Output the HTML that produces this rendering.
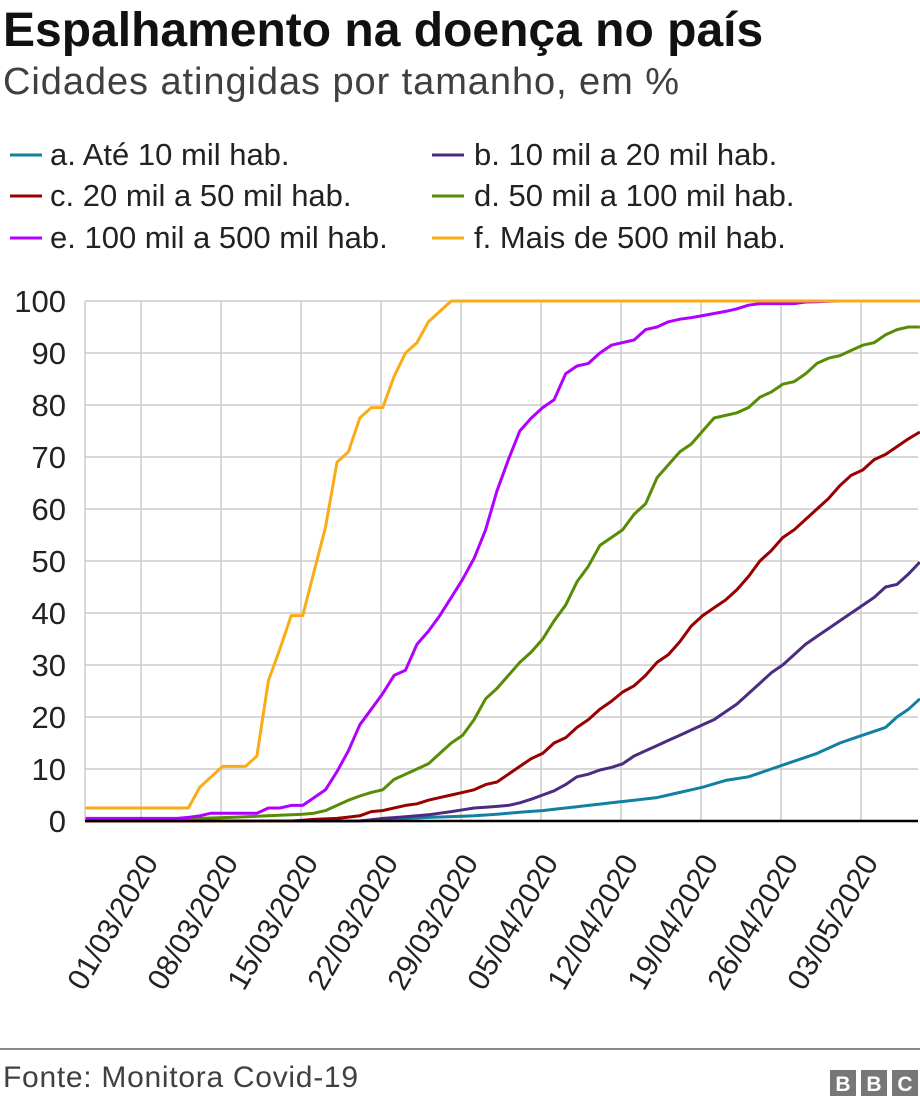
<!DOCTYPE html>
<html><head><meta charset="utf-8"><style>
body{margin:0;background:#fff;font-family:"Liberation Sans",Arial,sans-serif;}
svg text{font-family:"Liberation Sans",Arial,sans-serif;}
</style></head><body>
<svg id="s" width="920" height="1104" xmlns="http://www.w3.org/2000/svg">
<text x="3" y="46" font-size="48" font-weight="bold" fill="#111">Espalhamento na doença no país</text>
<text x="3" y="94" font-size="38" fill="#404040" textLength="676">Cidades atingidas por tamanho, em %</text>
<g font-size="31" fill="#222">
<line x1="10" y1="155" x2="42" y2="155" stroke="#1380a1" stroke-width="3"/><text x="50" y="165">a. Até 10 mil hab.</text>
<line x1="432" y1="155" x2="464" y2="155" stroke="#4b2c80" stroke-width="3"/><text x="474" y="165">b. 10 mil a 20 mil hab.</text>
<line x1="10" y1="196" x2="42" y2="196" stroke="#990000" stroke-width="3"/><text x="50" y="206">c. 20 mil a 50 mil hab.</text>
<line x1="432" y1="196" x2="464" y2="196" stroke="#588c07" stroke-width="3"/><text x="474" y="206">d. 50 mil a 100 mil hab.</text>
<line x1="10" y1="238" x2="42" y2="238" stroke="#b000ff" stroke-width="3"/><text x="50" y="248">e. 100 mil a 500 mil hab.</text>
<line x1="432" y1="238" x2="464" y2="238" stroke="#faab18" stroke-width="3"/><text x="474" y="248">f. Mais de 500 mil hab.</text>
</g>
<g id="grid"></g>
<g id="ser"></g>
<line x1="0" y1="1049" x2="920" y2="1049" stroke="#888" stroke-width="2"/>
<text x="3" y="1087" font-size="30" fill="#404040" textLength="355">Fonte: Monitora Covid-19</text>
<g fill="#777"><rect x="830" y="1070" width="26" height="26"/><rect x="861" y="1070" width="26" height="26"/><rect x="892" y="1070" width="26" height="26"/></g>
<g fill="#fff" font-size="21" font-weight="bold" text-anchor="middle"><text x="843" y="1091">B</text><text x="874" y="1091">B</text><text x="905" y="1091">C</text></g>
</svg>
<script>
var NS="http://www.w3.org/2000/svg",g=document.getElementById("grid"),se=document.getElementById("ser");
function el(p,t,a,txt){var e=document.createElementNS(NS,t);for(var k in a)e.setAttribute(k,a[k]);if(txt)e.textContent=txt;p.appendChild(e);return e;}
var X0=85.5,DX=11.43,Y0=821,DY=5.2;
for(var v=0;v<=100;v+=10){var y=Y0-v*DY;if(v>0)el(g,"line",{x1:85,x2:918,y1:y,y2:y,stroke:"#ccc","stroke-width":1.5});el(g,"text",{x:66,y:y+11,"font-size":31,"text-anchor":"end",fill:"#222"},""+v);}
el(g,"line",{x1:85,x2:85,y1:301,y2:821,stroke:"#ccc","stroke-width":1.5});
var labs=["01/03/2020","08/03/2020","15/03/2020","22/03/2020","29/03/2020","05/04/2020","12/04/2020","19/04/2020","26/04/2020","03/05/2020"];
for(var i=0;i<10;i++){var x=141+i*80;el(g,"line",{x1:x,x2:x,y1:301,y2:821,stroke:"#ccc","stroke-width":1.5});
el(g,"text",{x:0,y:0,"font-size":30,"text-anchor":"end",fill:"#222",transform:"translate("+(x+18)+",862) rotate(-60)"},labs[i]);}
function mk(kp,col){var pts=[];for(var d=0;d<=73;d++){var j=0;while(j<kp.length-1&&kp[j+1][0]<=d)j++;var v;if(j>=kp.length-1)v=kp[kp.length-1][1];else{var a=kp[j],b=kp[j+1];v=a[1]+(b[1]-a[1])*(d-a[0])/(b[0]-a[0]);}pts.push((X0+d*DX).toFixed(1)+","+(Y0-v*DY).toFixed(1));}
el(se,"polyline",{points:pts.join(" "),fill:"none",stroke:col,"stroke-width":3,"stroke-linejoin":"round"});}
mk([[0,0],[24,0],[30,.7],[34,1],[36,1.3],[38,1.7],[40,2],[42,2.5],[44,3],[46,3.5],[48,4],[50,4.5],[52,5.5],[54,6.5],[56,7.8],[58,8.5],[60,10],[62,11.5],[64,13],[66,15],[68,16.5],[70,18],[71,20],[72,21.5],[73,23.5]],"#1380a1");
mk([[0,0],[24,0],[26,.5],[28,.8],[30,1.2],[32,1.8],[34,2.5],[36,2.8],[37,3],[38,3.5],[39,4.2],[40,5],[41,5.8],[42,7],[43,8.5],[44,9],[45,9.8],[46,10.3],[47,11],[48,12.5],[49,13.5],[50,14.5],[51,15.5],[52,16.5],[53,17.5],[54,18.5],[55,19.5],[56,21],[57,22.5],[58,24.5],[59,26.5],[60,28.5],[61,30],[62,32],[63,34],[64,35.5],[65,37],[66,38.5],[67,40],[68,41.5],[69,43],[70,45],[71,45.5],[72,47.5],[73,49.8]],"#4b2c80");
mk([[0,0],[18,0],[20,.3],[22,.5],[24,1],[25,1.8],[26,2],[27,2.5],[28,3],[29,3.3],[30,4],[31,4.5],[32,5],[33,5.5],[34,6],[35,7],[36,7.5],[37,9],[38,10.5],[39,12],[40,13],[41,15],[42,16],[43,18],[44,19.5],[45,21.5],[46,23],[47,24.8],[48,26],[49,28],[50,30.5],[51,32],[52,34.5],[53,37.5],[54,39.5],[55,41],[56,42.5],[57,44.5],[58,47],[59,50],[60,52],[61,54.5],[62,56],[63,58],[64,60],[65,62],[66,64.5],[67,66.5],[68,67.5],[69,69.5],[70,70.5],[71,72],[72,73.5],[73,74.8]],"#990000");
mk([[0,.3],[8,.3],[10,.5],[14,.8],[16,1],[19,1.3],[20,1.5],[21,2],[22,3],[23,4],[24,4.8],[25,5.5],[26,6],[27,8],[28,9],[29,10],[30,11],[31,13],[32,15],[33,16.5],[34,19.5],[35,23.5],[36,25.5],[37,28],[38,30.5],[39,32.5],[40,35],[41,38.5],[42,41.5],[43,46],[44,49],[45,53],[46,54.5],[47,56],[48,59],[49,61],[50,66],[51,68.5],[52,71],[53,72.5],[54,75],[55,77.5],[56,78],[57,78.5],[58,79.5],[59,81.5],[60,82.5],[61,84],[62,84.5],[63,86],[64,88],[65,89],[66,89.5],[67,90.5],[68,91.5],[69,92],[70,93.5],[71,94.5],[72,95],[73,95]],"#588c07");
mk([[0,.5],[8,.5],[9,.7],[10,1],[11,1.5],[15,1.5],[16,2.5],[17,2.5],[18,3],[19,3],[20,4.5],[21,6],[22,9.5],[23,13.5],[24,18.5],[25,21.5],[26,24.5],[27,28],[28,29],[29,34],[30,36.5],[31,39.5],[32,43],[33,46.5],[34,50.5],[35,56],[36,63.5],[37,69.5],[38,75],[39,77.5],[40,79.5],[41,81],[42,86],[43,87.5],[44,88],[45,90],[46,91.5],[47,92],[48,92.5],[49,94.5],[50,95],[51,96],[52,96.5],[53,96.8],[54,97.2],[55,97.6],[56,98],[57,98.5],[58,99.2],[59,99.5],[62,99.5],[63,99.8],[66,100],[73,100]],"#b000ff");
mk([[0,2.5],[9,2.5],[10,6.5],[12,10.5],[14,10.5],[15,12.5],[16,27],[17,33],[18,39.5],[19,39.5],[20,48],[21,56.5],[22,69],[23,71],[24,77.5],[25,79.5],[26,79.5],[27,85.5],[28,90],[29,92],[30,96],[31,98],[32,100],[73,100]],"#faab18");
el(se,"line",{x1:85,x2:918,y1:821,y2:821,stroke:"#000","stroke-width":2.5});
</script>
</body></html>
